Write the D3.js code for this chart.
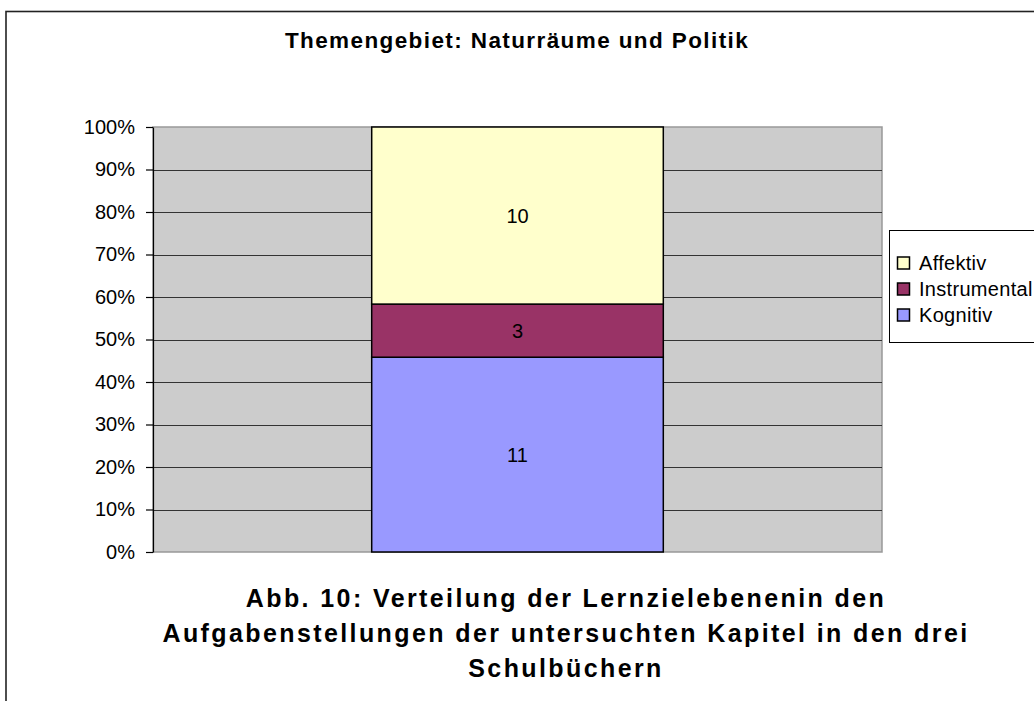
<!DOCTYPE html>
<html>
<head>
<meta charset="utf-8">
<script src="https://cdn.jsdelivr.net/npm/d3@7"></script>
<style>
  html, body { margin: 0; padding: 0; background: #fff; }
  svg { display: block; font-family: Arial, "Liberation Sans", sans-serif; }
</style>
</head>
<body>
<div id="chart"></div>
<script>
// Data
const categories = ['Naturräume und Politik'];
const seriesNames = ['Kognitiv', 'Instrumental', 'Affektiv'];
const seriesValues = [[11], [3], [10]];
const seriesColors = ['#9999FF', '#993366', '#FFFFCC'];
const yTicks = [0, 0.1, 0.2, 0.3, 0.4, 0.5, 0.6, 0.7, 0.8, 0.9, 1];
const title = 'Themengebiet: Naturräume und Politik';
const captionLines = [
  'Abb. 10: Verteilung der Lernzielebenenin den',
  'Aufgabenstellungen der untersuchten Kapitel in den drei',
  'Schulbüchern'
];

const W = 1034, H = 701;
const plot = { left: 153, top: 127, right: 882, bottom: 552 };

const svg = d3.select('#chart').append('svg').attr('width', W).attr('height', H);

// outer chart frame (runs past the picture at right and bottom)
svg.append('rect')
  .attr('x', 6).attr('y', 11.5)
  .attr('width', W + 20).attr('height', H + 20)
  .attr('fill', '#fff')
  .attr('stroke', '#222')
  .attr('stroke-width', 1.6);

svg.append('text')
  .attr('x', 517).attr('y', 48)
  .attr('text-anchor', 'middle')
  .style('font-size', '22.5px')
  .style('font-weight', 700)
  .style('letter-spacing', '1.4px')
  .text(title);

// stacked rows: one per category, cumulative percentage
const rows = categories.map((c, i) => {
  const vals = seriesValues.map((s) => s[i]);
  const total = d3.sum(vals);
  let acc = 0;
  return vals.map((v, k) => {
    const y0 = acc / total;
    acc += v;
    return { cat: c, key: seriesNames[k], value: v, y0, y1: acc / total, k };
  });
});

const x = d3.scaleBand().domain(categories).range([plot.left, plot.right])
  .paddingInner(0).paddingOuter(0.75);
const y = d3.scaleLinear().domain([0, 1]).range([plot.bottom, plot.top]);

// plot area
svg.append('rect')
  .attr('x', plot.left).attr('y', plot.top)
  .attr('width', plot.right - plot.left).attr('height', plot.bottom - plot.top)
  .attr('fill', '#CCCCCC')
  .attr('stroke', '#999')
  .attr('stroke-width', 1.5);

// gridlines
svg.append('g')
  .selectAll('line')
  .data(yTicks.filter((t) => t > 0 && t < 1))
  .join('line')
  .attr('x1', plot.left).attr('x2', plot.right)
  .attr('y1', (d) => Math.round(y(d)) + 0.5).attr('y2', (d) => Math.round(y(d)) + 0.5)
  .attr('stroke', '#333')
  .attr('stroke-width', 1);

// left axis
svg.append('g')
  .attr('transform', `translate(${plot.left},0)`)
  .call(d3.axisLeft(y).tickValues(yTicks).tickFormat(d3.format('.0%')).tickSize(7).tickPadding(11).tickSizeOuter(0))
  .call((a) => a.select('.domain').attr('stroke', '#000').attr('stroke-width', 1.2))
  .call((a) => a.selectAll('line').attr('stroke', '#000').attr('stroke-width', 1.2))
  .call((a) => a.selectAll('text')
    .attr('fill', '#000')
    .style('font-size', '20px')
    .style('font-family', 'Arial, "Liberation Sans", sans-serif'));

// bars
const segs = rows.flat();
svg.append('g')
  .selectAll('rect')
  .data(segs)
  .join('rect')
  .attr('x', (d) => x(d.cat))
  .attr('y', (d) => y(d.y1))
  .attr('width', x.bandwidth())
  .attr('height', (d) => y(d.y0) - y(d.y1))
  .attr('fill', (d) => seriesColors[d.k])
  .attr('stroke', '#000')
  .attr('stroke-width', 1.5);

svg.append('g')
  .selectAll('text')
  .data(segs)
  .join('text')
  .attr('x', (d) => x(d.cat) + x.bandwidth() / 2)
  .attr('y', (d) => (y(d.y0) + y(d.y1)) / 2 + 7)
  .attr('text-anchor', 'middle')
  .attr('fill', '#000')
  .style('font-size', '20px')
  .text((d) => d.value);

// legend
const legend = svg.append('g');
legend.append('rect')
  .attr('x', 889.5).attr('y', 230.5)
  .attr('width', 200).attr('height', 112)
  .attr('fill', '#fff')
  .attr('stroke', '#000')
  .attr('stroke-width', 1);

const legendOrder = seriesNames.map((n, k) => k).reverse();
const li = legend.selectAll('g.item')
  .data(legendOrder)
  .join('g')
  .attr('class', 'item')
  .attr('transform', (d, i) => `translate(897,${263 + i * 26})`);
li.append('rect')
  .attr('x', 0.5).attr('y', -6)
  .attr('width', 12).attr('height', 12)
  .attr('fill', (k) => seriesColors[k])
  .attr('stroke', '#000')
  .attr('stroke-width', 1.5);
li.append('text')
  .attr('x', 22).attr('y', 7)
  .attr('fill', '#000')
  .style('font-size', '20px')
  .style('letter-spacing', '0.3px')
  .text((k) => seriesNames[k]);

// caption below the plot
svg.append('g')
  .selectAll('text')
  .data(captionLines)
  .join('text')
  .attr('x', 566)
  .attr('y', (d, i) => 607 + i * 35)
  .attr('text-anchor', 'middle')
  .attr('fill', '#000')
  .style('font-size', '25px')
  .style('font-weight', 700)
  .style('letter-spacing', '2.4px')
  .text((d) => d);
</script>
</body>
</html>
